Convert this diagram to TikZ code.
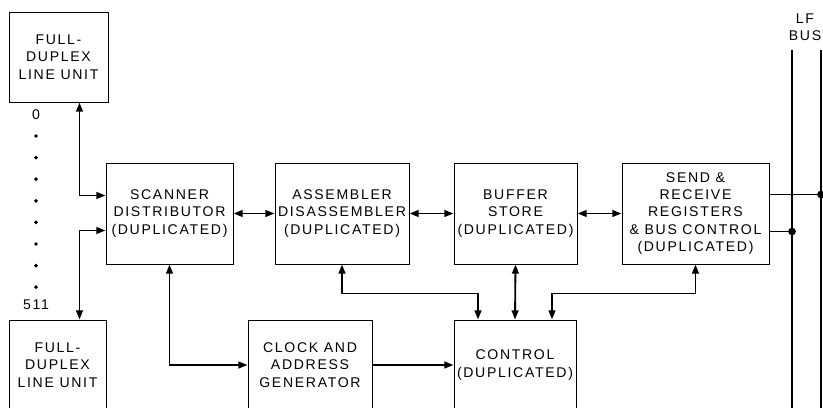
\documentclass[tikz,border=0pt]{standalone}
\usepackage{fontspec}
\setmainfont{Liberation Sans}[LetterSpace=12]
\usetikzlibrary{arrows.meta,calc}
\tikzset{
  box/.style={draw=black, line width=0.7pt, align=center, inner sep=1pt, font=\fontsize{10}{12.3}\selectfont},
  sz/.style 2 args={minimum width=#1*0.025cm, minimum height=#2*0.025cm},
  arrow/.style={-{Triangle[length=2.3mm,width=1.7mm]}, line width=1.3pt},
  dblarrow/.style={{Triangle[length=2.3mm,width=1.7mm]}-{Triangle[length=2.3mm,width=1.7mm]}, line width=1.3pt},
  wire/.style={line width=1.3pt},
  busline/.style={line width=1.5pt},
  dot/.style={circle, fill=black, minimum size=5.5pt, inner sep=0pt}
}

\begin{document}
\begin{tikzpicture}[x=0.025cm, y=-0.025cm, lbl/.style={font=\fontsize{10}{12}\selectfont, align=center, inner sep=0pt}]
\useasboundingbox (0,0) rectangle (823,408);
% ---- blocks ----
\node[box, sz={99}{90}] (fdlu1) at (58.5,57) {FULL-\\DUPLEX\\LINE UNIT};
\node[box, sz={97}{90}] (fdlu2) at (57.5,365) {FULL-\\DUPLEX\\LINE UNIT};
\node[box, sz={127}{101}] (scan) at (169.5,213.5) {SCANNER\\DISTRIBUTOR\\(DUPLICATED)};
\node[box, sz={134}{101}] (asm) at (342,213.5) {ASSEMBLER\\DISASSEMBLER\\(DUPLICATED)};
\node[box, sz={123}{101}] (buf) at (515.5,213.5) {BUFFER\\STORE\\(DUPLICATED)};
\node[box, sz={147}{101}] (send) at (695.5,213.5) {SEND \&\\RECEIVE\\REGISTERS\\\& BUS CONTROL\\(DUPLICATED)};
\node[box, sz={124}{90}] (clock) at (310,365) {CLOCK AND\\ADDRESS\\GENERATOR};
\node[box, sz={122}{90}] (ctrl) at (515,365) {CONTROL\\(DUPLICATED)};
% ---- line numbering ----
\node[lbl] (n0) at (36,115) {0};
\node[lbl] (n511) at (36,305) {511};
\foreach \k in {0,...,7}
  \fill (36,136+21.6*\k) circle (1.4pt);
% ---- connectors ----
\draw[dblarrow] ($(fdlu1.south east)+(-29,0)$) |- ($(scan.west)+(0,-18)$);
\draw[dblarrow] ($(fdlu2.north east)+(-27,0)$) |- ($(scan.west)+(0,17)$);
\draw[dblarrow] (scan.east) -- (asm.west);
\draw[dblarrow] (asm.east) -- (buf.west);
\draw[dblarrow] (buf.east) -- (send.west);
\draw[dblarrow] (scan.south) |- (clock.west);
\draw[arrow] (clock.east) -- (clock.east -| ctrl.west);
\draw[dblarrow] (asm.south) -- ++(0,29) -| ($(ctrl.north)+(-37,0)$);
\draw[dblarrow] (buf.south) -- (ctrl.north);
\draw[arrow] ($(send.south)+(0,29)$) -| ($(ctrl.north)+(37,0)$);
\draw[arrow] ($(send.south)+(0,29)$) -- (send.south);
% ---- LF bus ----
\coordinate (busA) at (792,50);
\coordinate (busAend) at (792,412);
\coordinate (busB) at (821,50);
\coordinate (busBend) at (821,412);
\draw[busline] (busA) -- (busAend);
\draw[busline] (busB) -- (busBend);
\node[lbl] (lfbus) at (805,27) {LF\\BUS};
\coordinate (sendA) at ($(send.east)+(0,-19)$);
\coordinate (sendB) at ($(send.east)+(0,18)$);
\draw[wire] (sendA) -- (sendA -| busB) node[dot] {};
\draw[wire] (sendB) -- (sendB -| busA) node[dot] {};
\end{tikzpicture}
\end{document}
